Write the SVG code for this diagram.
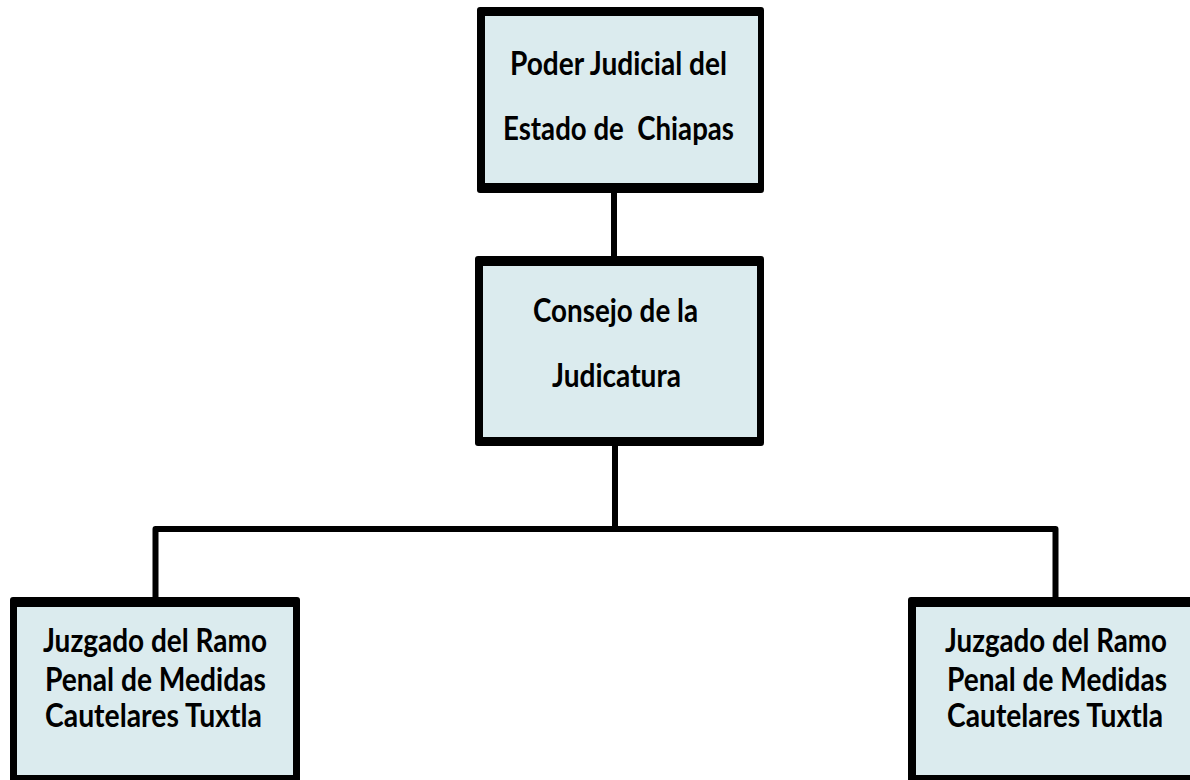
<svg xmlns="http://www.w3.org/2000/svg" width="1190" height="780" viewBox="0 0 1190 780">
<style>
.frame{fill:#000}
.fill{fill:#dbebee}
.conn{stroke:#000;stroke-width:6;fill:none;stroke-linecap:butt;stroke-linejoin:round}
.t{font-family:Lato,"Open Sans","Liberation Sans",sans-serif;font-weight:bold;font-size:28px;fill:#000}
</style>
<rect width="1190" height="780" fill="#fff"/>
<g id="connectors">
<path class="conn" d="M614,190 V259"/>
<path class="conn" d="M615,443 V529"/>
<path class="conn" d="M155.5,600 V529 H1055.5 V600"/>
</g>
<g id="node-poder">
<rect class="frame" x="477" y="7" width="287" height="186" rx="3"/>
<rect class="fill" x="485" y="16" width="273" height="167"/>
<text class="t" transform="translate(510,75) scale(1,1.15)" textLength="217" lengthAdjust="spacingAndGlyphs">Poder Judicial del</text>
<text class="t" transform="translate(503,140) scale(1,1.15)" textLength="231" lengthAdjust="spacingAndGlyphs" xml:space="preserve">Estado de  Chiapas</text>
</g>
<g id="node-consejo">
<rect class="frame" x="475" y="256" width="289" height="190" rx="3"/>
<rect class="fill" x="483" y="266" width="274" height="171"/>
<text class="t" transform="translate(533,322) scale(1,1.15)" textLength="165" lengthAdjust="spacingAndGlyphs">Consejo de la</text>
<text class="t" transform="translate(552,387) scale(1,1.15)" textLength="129" lengthAdjust="spacingAndGlyphs">Judicatura</text>
</g>
<g id="node-juzgado-izq">
<rect class="frame" x="10" y="597" width="290" height="188" rx="3"/>
<rect class="fill" x="17" y="607" width="276" height="168"/>
<text class="t" transform="translate(43,652) scale(1,1.15)" textLength="224" lengthAdjust="spacingAndGlyphs">Juzgado del Ramo</text>
<text class="t" transform="translate(45,691) scale(1,1.15)" textLength="221" lengthAdjust="spacingAndGlyphs">Penal de Medidas</text>
<text class="t" transform="translate(45,727) scale(1,1.15)" textLength="217" lengthAdjust="spacingAndGlyphs">Cautelares Tuxtla</text>
</g>
<g id="node-juzgado-der">
<rect class="frame" x="908" y="597" width="300" height="188" rx="3"/>
<rect class="fill" x="916" y="607" width="290" height="168"/>
<text class="t" transform="translate(945,652) scale(1,1.15)" textLength="222" lengthAdjust="spacingAndGlyphs">Juzgado del Ramo</text>
<text class="t" transform="translate(947,691) scale(1,1.15)" textLength="220" lengthAdjust="spacingAndGlyphs">Penal de Medidas</text>
<text class="t" transform="translate(947,727) scale(1,1.15)" textLength="216" lengthAdjust="spacingAndGlyphs">Cautelares Tuxtla</text>
</g>
</svg>
